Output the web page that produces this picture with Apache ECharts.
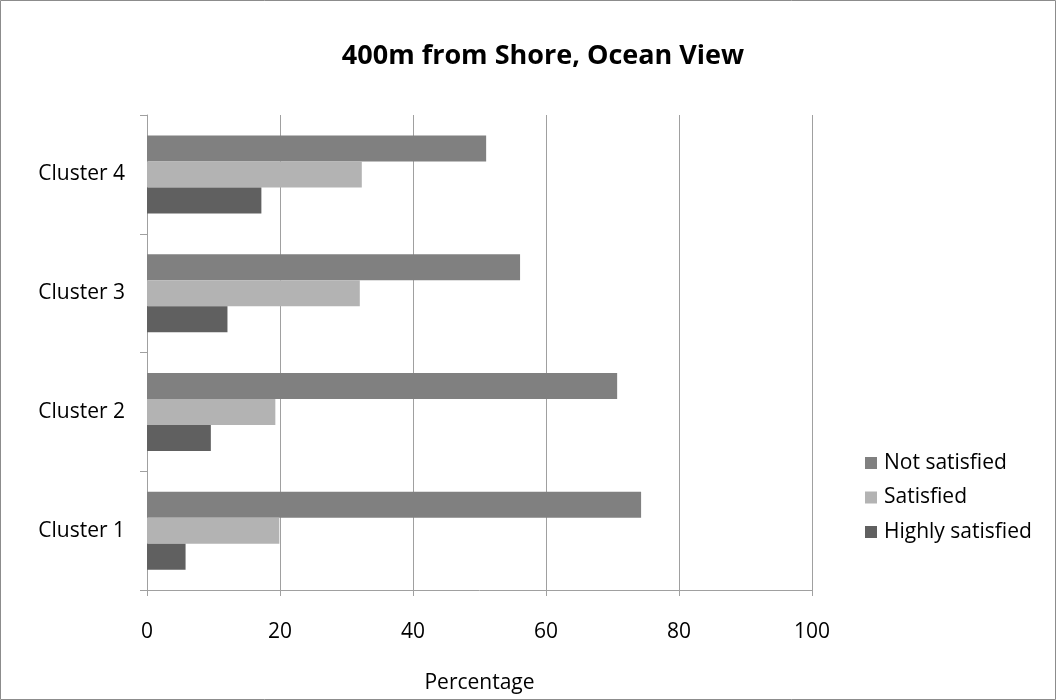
<!DOCTYPE html>
<html>
<head>
<meta charset="utf-8">
<style>
  html, body { margin: 0; padding: 0; background: #fff; }
  #chart { width: 1056px; height: 700px; }
</style>
<script src="https://cdn.jsdelivr.net/npm/echarts@6/dist/echarts.min.js"></script>
</head>
<body>
<div id="chart"></div>
<script>
// Satisfaction by cluster, in percent
const clusters = ['Cluster 1', 'Cluster 2', 'Cluster 3', 'Cluster 4'];
const notSatisfied = [74.3, 70.7, 56.1, 51.0];
const satisfied = [19.9, 19.3, 32.0, 32.3];
const highlySatisfied = [5.8, 9.6, 12.1, 17.2];
const xTicks = [0, 20, 40, 60, 80, 100];

const FONT = '"Open Sans", "Noto Sans", sans-serif';
const chart = echarts.init(document.getElementById('chart'));

const seriesDefs = [
  { name: 'Not satisfied', data: notSatisfied, color: '#808080' },
  { name: 'Satisfied', data: satisfied, color: '#b3b3b3' },
  { name: 'Highly satisfied', data: highlySatisfied, color: '#606060' }
];

chart.setOption({
  animation: false,
  backgroundColor: '#ffffff',
  title: {
    text: '400m from Shore, Ocean View',
    left: 538,
    top: 38,
    textAlign: 'center',
    textStyle: { fontFamily: FONT, fontWeight: 'bold', fontSize: 27, color: '#000' }
  },
  graphic: [{
    type: 'rect',
    shape: { x: 0.5, y: 0.5, width: 1055, height: 699 },
    style: { fill: 'none', stroke: '#8c8c8c', lineWidth: 1 },
    silent: true
  }],
  legend: {
    orient: 'vertical',
    left: 860,
    top: 446,
    itemWidth: 12,
    itemHeight: 12,
    itemGap: 10.5,
    icon: 'rect',
    data: seriesDefs.map(s => s.name),
    textStyle: { fontFamily: FONT, fontSize: 21, lineHeight: 24, color: '#000', padding: [0, 0, 0, 2] }
  },
  grid: { left: 147, right: 244, top: 115, bottom: 110, containLabel: false },
  xAxis: {
    type: 'value',
    min: xTicks[0],
    max: xTicks[xTicks.length - 1],
    interval: xTicks[1] - xTicks[0],
    name: 'Percentage',
    nameLocation: 'middle',
    nameGap: 83,
    nameTextStyle: { fontFamily: FONT, fontSize: 21, color: '#000' },
    axisLine: { show: true, lineStyle: { color: '#a0a0a0', width: 1 } },
    axisTick: { show: true, length: 6, lineStyle: { color: '#a0a0a0' } },
    axisLabel: { margin: 32, fontFamily: FONT, fontSize: 21, color: '#000' },
    splitLine: { show: true, lineStyle: { color: '#a0a0a0', width: 1 } }
  },
  yAxis: {
    type: 'category',
    data: clusters,
    axisLine: { show: true, lineStyle: { color: '#a0a0a0', width: 1 } },
    axisTick: { show: true, length: 7, alignWithLabel: false, lineStyle: { color: '#a0a0a0' } },
    axisLabel: { margin: 22, fontFamily: FONT, fontSize: 21, color: '#000' },
    splitLine: { show: false }
  },
  series: seriesDefs.map(s => ({
    name: s.name,
    type: 'bar',
    data: s.data,
    barWidth: 26,
    barGap: '0%',
    barCategoryGap: '34%',
    itemStyle: { color: s.color }
  }))
});
</script>
</body>
</html>
